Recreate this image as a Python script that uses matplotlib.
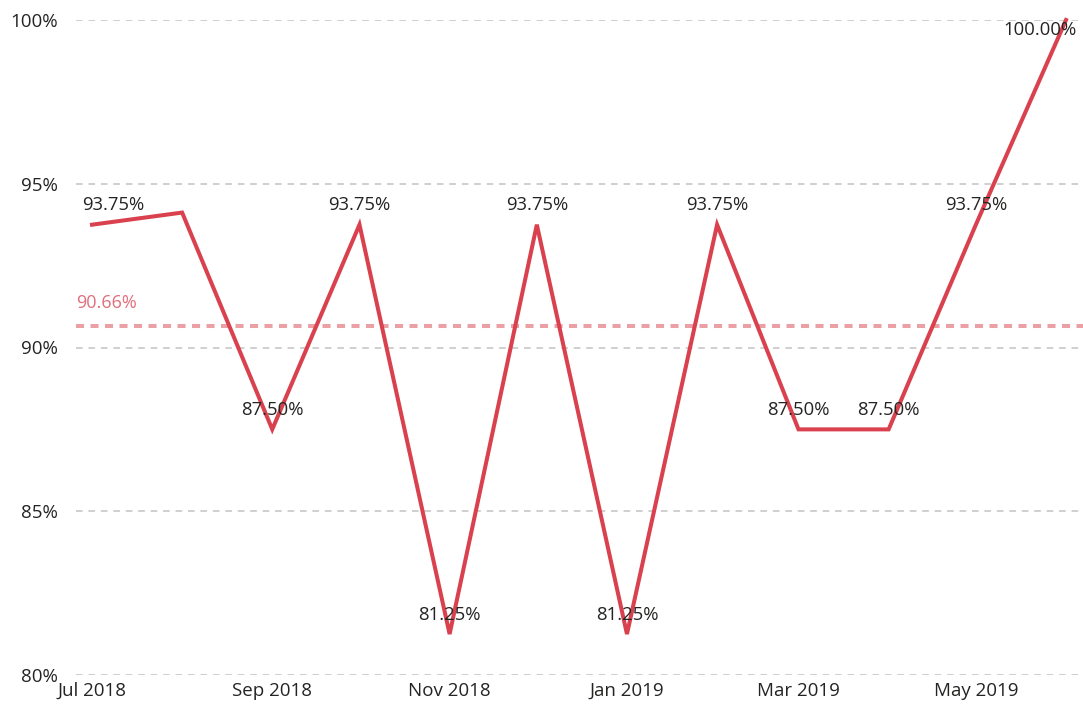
import pandas as pd
import matplotlib.pyplot as plt
import matplotlib.dates as mdates
from matplotlib.ticker import FuncFormatter

plt.rcParams['font.family'] = ['Open Sans', 'DejaVu Sans']

# Monthly values (%)
months = ["2018-07-01", "2018-08-01", "2018-09-01", "2018-10-01", "2018-11-01", "2018-12-01",
          "2019-01-01", "2019-02-01", "2019-03-01", "2019-04-01", "2019-05-01", "2019-06-01"]
values = [93.75, 94.12, 87.50, 93.75, 81.25, 93.75, 81.25, 93.75, 87.50, 87.50, 93.75, 100.00]
labels = ["93.75%", "", "87.50%", "93.75%", "81.25%", "93.75%", "81.25%", "93.75%",
          "87.50%", "87.50%", "93.75%", "100.00%"]
tick_months = ["2018-07-01", "2018-09-01", "2018-11-01", "2019-01-01", "2019-03-01", "2019-05-01"]
average = 90.66

dates = pd.to_datetime(months)

fig = plt.figure(figsize=(10.83, 7.06), dpi=100)
ax = fig.add_axes([76 / 1083, 31 / 706, 1 - 76 / 1083, 655 / 706])

line_color = "#D9414E"
ax.plot(dates, values, color=line_color, linewidth=2.9, solid_joinstyle='miter', clip_on=False, zorder=3)

# Average line
ax.axhline(average, color="#EBA0A6", linewidth=2.9, linestyle=(0, (2.0, 1.6)), zorder=2)
ax.annotate(f"{average:.2f}%", xy=(0, average), xycoords=('axes fraction', 'data'),
            xytext=(0, 13), textcoords='offset points', color="#E0707B", fontsize=13, ha='left')

# Data labels
for i, (d, v, lab) in enumerate(zip(dates, values, labels)):
    if not lab:
        continue
    dx = 0
    dy = 14
    if i == 0:
        dx = 15
    if i == len(values) - 1:
        dx = -19
        dy = -7
    ax.annotate(lab, xy=(d, v), xytext=(dx, dy), textcoords='offset points',
                ha='center', va='center', fontsize=13.3, color="#252423", zorder=4)

ax.set_ylim(80, 100)
ax.set_xlim(pd.Timestamp("2018-07-01") - pd.Timedelta(days=5.5),
            pd.Timestamp("2019-06-01") + pd.Timedelta(days=5.85))
ax.set_yticks([80, 85, 90, 95, 100])
ax.yaxis.set_major_formatter(FuncFormatter(lambda v, p: f"{v:.0f}%"))
ax.set_xticks(pd.to_datetime(tick_months))
ax.xaxis.set_major_formatter(mdates.DateFormatter("%b %Y"))

ax.grid(axis='y', color="#CFCFCF", linestyle=(0, (3.4, 3.0)), linewidth=1.4)
ax.set_axisbelow(True)
for s in ax.spines.values():
    s.set_visible(False)
ax.tick_params(axis='both', length=0, labelsize=13.5, labelcolor="#252423")
ax.tick_params(axis='y', pad=13)
ax.tick_params(axis='x', pad=5)

fig.savefig("out.png", dpi=100)
